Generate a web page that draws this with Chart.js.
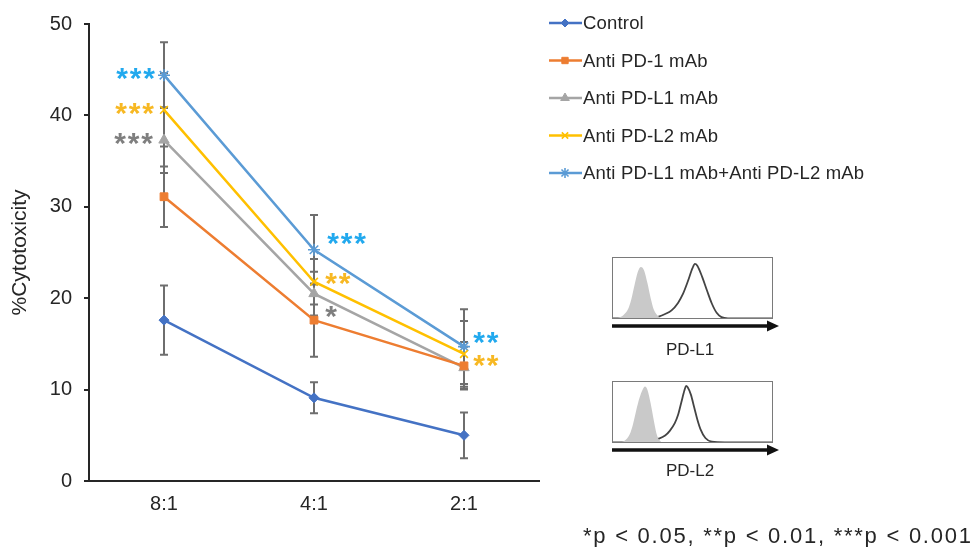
<!DOCTYPE html>
<html>
<head>
<meta charset="utf-8">
<script src="https://cdn.jsdelivr.net/npm/chart.js@4.4.1/dist/chart.umd.min.js"></script>
<style>
  html, body { margin: 0; padding: 0; background: #fff; }
  #wrap { position: relative; width: 978px; height: 547px; overflow: hidden; }
  #wrap canvas { position: absolute; }
</style>
</head>
<body>
<div id="wrap">
  <canvas id="main" width="978" height="547" style="left:0;top:0"></canvas>
  <canvas id="insetL1" width="161" height="62" style="left:612px;top:257px"></canvas>
  <canvas id="insetL2" width="161" height="62" style="left:612px;top:381px"></canvas>
</div>
<script>
/* ── data ── */
const categories = ['8:1', '4:1', '2:1'];
const yTicks = [0, 10, 20, 30, 40, 50];

const seriesNames = ['Control', 'Anti PD-1 mAb', 'Anti PD-L1 mAb', 'Anti PD-L2 mAb', 'Anti PD-L1 mAb+Anti PD-L2 mAb'];

const control  = [17.6, 9.1, 5.0];
const antiPD1  = [31.1, 17.6, 12.6];
const antiPDL1 = [37.3, 20.5, 12.4];
const antiPDL2 = [40.6, 21.8, 13.9];
const combo    = [44.4, 25.3, 14.7];

const controlErr  = [3.8, 1.7, 2.5];
const antiPD1Err  = [3.3, 4.0, 2.6];
const antiPDL1Err = [3.6, 2.4, 2.3];
const antiPDL2Err = [4.0, 2.5, 3.6];
const comboErr    = [3.6, 3.8, 4.1];

const antiPDL1Sig = ['***', '*', ''];
const antiPDL2Sig = ['***', '**', '**'];
const comboSig    = ['***', '***', '**'];

const pValueNote = '*p < 0.05, **p < 0.01, ***p < 0.001';

// flow histograms (x: fluorescence, 0-100 across box; y: count, 0-100 of box height)
const pdl1IsoX   = [1, 4, 7, 10, 12, 14, 16, 18, 20, 22, 24, 26, 29, 32];
const pdl1IsoY   = [0, 2, 6, 16, 32, 55, 76, 84, 78, 58, 34, 15, 4, 0];
const pdl1StainX = [0, 15, 24, 29, 33, 37, 41, 44, 47, 50, 51.5, 53, 56, 59, 62, 65, 68, 72, 80, 100];
const pdl1StainY = [1, 1, 2, 4, 8, 14, 26, 40, 60, 82, 89, 86, 68, 46, 25, 10, 3, 1, 1, 1];

const pdl2IsoX   = [4, 8, 11, 13, 15, 17, 19, 20.5, 22, 24, 26, 28, 31];
const pdl2IsoY   = [0, 4, 14, 30, 52, 72, 86, 91, 86, 64, 36, 12, 0];
const pdl2StainX = [0, 10, 18, 24, 29, 33, 36, 39, 41, 43, 45, 46, 47, 49, 51, 53, 55, 58, 62, 70, 100];
const pdl2StainY = [1, 1, 2, 4, 7, 12, 20, 32, 45, 65, 85, 92, 90, 78, 58, 38, 22, 8, 2, 1, 1];

/* ── styling ── */
const FONT = "Arial, 'Liberation Sans', sans-serif";
const INK = '#262626';
const COLORS = {
  control: '#4472C4',
  pd1:     '#ED7D31',
  pdl1:    '#A5A5A5',
  pdl2:    '#FFC000',
  combo:   '#5B9BD5',
};
const SIG_COLORS = { pdl1: '#7F7F7F', pdl2: '#F7B823', combo: '#22A9EE' };

// offset of the nearest asterisk from its point, and which way the run extends
const SIG_POS = {
  2: [[-17, 0, -1], [17, 19, 1], [0, 0, 1]],
  3: [[-16, 0, -1], [17, -2, 1], [15, 8, 1]],
  4: [[-15, 0, -1], [19, -10, 1], [15, -8, 1]],
};

function series(label, data, errors, color, style, radius, sig, sigColor) {
  return {
    label, data, errors, sig, sigColor,
    borderColor: color,
    backgroundColor: color,
    borderWidth: 2.5,
    pointStyle: style,
    pointRadius: radius,
    pointBackgroundColor: color,
    pointBorderColor: color,
    pointBorderWidth: (style === 'crossRot' || style === 'star') ? 1.6 : 1,
    tension: 0,
  };
}

/* ─── Error bars, drawn under the lines ─── */
const errorBars = {
  id: 'errorBars',
  beforeDatasetsDraw(chart) {
    const { ctx, scales: { y } } = chart;
    ctx.save();
    ctx.strokeStyle = '#6E6E6E';
    ctx.lineWidth = 2;
    chart.data.datasets.forEach((ds, i) => {
      chart.getDatasetMeta(i).data.forEach((pt, j) => {
        const top = y.getPixelForValue(ds.data[j] + ds.errors[j]);
        const bot = y.getPixelForValue(ds.data[j] - ds.errors[j]);
        ctx.beginPath();
        ctx.moveTo(pt.x, top); ctx.lineTo(pt.x, bot);
        ctx.moveTo(pt.x - 4, top); ctx.lineTo(pt.x + 4, top);
        ctx.moveTo(pt.x - 4, bot); ctx.lineTo(pt.x + 4, bot);
        ctx.stroke();
      });
    });
    ctx.restore();
  },
};

/* ─── Significance asterisks ─── */
const sigMarks = {
  id: 'sigMarks',
  afterDatasetsDraw(chart) {
    const { ctx } = chart;
    const size = 30;
    ctx.save();
    ctx.font = `bold ${size}px ${FONT}`;
    ctx.textAlign = 'center';
    ctx.textBaseline = 'alphabetic';
    chart.data.datasets.forEach((ds, i) => {
      if (!ds.sig) return;
      ctx.fillStyle = ds.sigColor;
      chart.getDatasetMeta(i).data.forEach((pt, j) => {
        const n = ds.sig[j].length;
        if (!n) return;
        const [dx, dy, dir] = SIG_POS[i][j];
        for (let k = 0; k < n; k++) {
          ctx.fillText('*', pt.x + dx + dir * k * 13.5, pt.y + dy + size * 0.44);
        }
      });
    });
    ctx.restore();
  },
};

/* ─── Legend, y title, flow arrows, footnote ─── */
const decorations = {
  id: 'decorations',
  afterDraw(chart) {
    const { ctx, chartArea } = chart;
    ctx.save();

    // y axis title
    ctx.fillStyle = INK;
    ctx.font = `21px ${FONT}`;
    ctx.textAlign = 'center';
    ctx.textBaseline = 'middle';
    ctx.translate(20, (chartArea.top + chartArea.bottom) / 2);
    ctx.rotate(-Math.PI / 2);
    ctx.fillText('%Cytotoxicity', 0, 0);
    ctx.setTransform(1, 0, 0, 1, 0, 0);

    // legend
    ctx.font = `18.5px ${FONT}`;
    const longest = ctx.measureText(seriesNames[4]).width;
    ctx.letterSpacing = ((281 - longest) / (seriesNames[4].length - 1)).toFixed(2) + 'px';
    ctx.textAlign = 'left';
    chart.data.datasets.forEach((ds, i) => {
      const y = 23 + i * 37.5;
      ctx.strokeStyle = ds.borderColor;
      ctx.lineWidth = 2.5;
      ctx.beginPath();
      ctx.moveTo(549, y); ctx.lineTo(582, y);
      ctx.stroke();
      ctx.fillStyle = ds.borderColor;
      ctx.lineWidth = ds.pointBorderWidth;
      Chart.helpers.drawPoint(ctx, {
        pointStyle: ds.pointStyle, radius: ds.pointRadius - 1, rotation: 0, borderWidth: ds.pointBorderWidth,
      }, 565, y);
      ctx.fillStyle = INK;
      ctx.fillText(ds.label, 583, y + 1);
    });
    ctx.letterSpacing = '0px';

    // histogram axes arrows and labels
    [[326, 'PD-L1', 350], [450, 'PD-L2', 471]].forEach(([ay, name, ly]) => {
      ctx.strokeStyle = '#111';
      ctx.fillStyle = '#111';
      ctx.lineWidth = 3.5;
      ctx.beginPath();
      ctx.moveTo(612, ay); ctx.lineTo(768, ay);
      ctx.stroke();
      ctx.beginPath();
      ctx.moveTo(779, ay); ctx.lineTo(767, ay - 5.5); ctx.lineTo(767, ay + 5.5);
      ctx.closePath();
      ctx.fill();
      ctx.fillStyle = INK;
      ctx.font = `17px ${FONT}`;
      ctx.textAlign = 'center';
      ctx.textBaseline = 'middle';
      ctx.fillText(name, 690, ly);
    });

    // footnote
    ctx.font = `22px ${FONT}`;
    ctx.textAlign = 'left';
    ctx.textBaseline = 'alphabetic';
    const w = ctx.measureText(pValueNote).width;
    ctx.letterSpacing = ((388 - w) / (pValueNote.length - 1)).toFixed(2) + 'px';
    ctx.fillText(pValueNote, 583, 543);
    ctx.restore();
  },
};

new Chart(document.getElementById('main'), {
  type: 'line',
  data: {
    labels: categories,
    datasets: [
      series(seriesNames[0], control,  controlErr,  COLORS.control, 'rectRot', 5),
      series(seriesNames[1], antiPD1,  antiPD1Err,  COLORS.pd1,     'rect', 5.5),
      series(seriesNames[2], antiPDL1, antiPDL1Err, COLORS.pdl1,    'triangle', 6, antiPDL1Sig, SIG_COLORS.pdl1),
      series(seriesNames[3], antiPDL2, antiPDL2Err, COLORS.pdl2,    'crossRot', 5.5, antiPDL2Sig, SIG_COLORS.pdl2),
      series(seriesNames[4], combo,    comboErr,    COLORS.combo,   'star', 6, comboSig, SIG_COLORS.combo),
    ],
  },
  options: {
    responsive: false,
    animation: false,
    layout: { padding: { left: 0, top: 19, right: 439, bottom: 0 } },
    plugins: { legend: { display: false }, tooltip: { enabled: false } },
    scales: {
      x: {
        type: 'category',
        offset: true,
        grid: { display: false, drawTicks: false },
        border: { color: INK, width: 2 },
        ticks: { color: INK, padding: 11, font: { size: 20, family: FONT } },
        afterFit(s) { s.height = 66; },
      },
      y: {
        min: 0,
        max: 50,
        afterBuildTicks(s) { s.ticks = yTicks.map(v => ({ value: v })); },
        grid: { drawOnChartArea: false, drawTicks: true, tickLength: 5, color: INK, lineWidth: 2 },
        border: { color: INK, width: 2 },
        ticks: { color: INK, padding: 12, font: { size: 20, family: FONT } },
        afterFit(s) { s.width = 89; },
      },
    },
  },
  plugins: [errorBars, sigMarks, decorations],
});

/* ─── Flow cytometry insets ─── */
const boxFrame = {
  id: 'boxFrame',
  afterDraw(chart) {
    const { ctx, width, height } = chart;
    ctx.save();
    ctx.strokeStyle = '#7A7A7A';
    ctx.lineWidth = 1;
    ctx.strokeRect(0.5, 0.5, width - 1, height - 1);
    ctx.restore();
  },
};

function inset(id, isoX, isoY, stainX, stainY) {
  const pts = (xs, ys) => xs.map((x, i) => ({ x, y: ys[i] }));
  new Chart(document.getElementById(id), {
    type: 'line',
    data: {
      datasets: [
        {
          data: pts(isoX, isoY),
          fill: 'origin',
          backgroundColor: '#C9C9C9',
          borderColor: '#C9C9C9',
          borderWidth: 0,
          pointRadius: 0,
          cubicInterpolationMode: 'monotone',
        },
        {
          data: pts(stainX, stainY),
          fill: false,
          borderColor: '#444',
          borderWidth: 1.8,
          pointRadius: 0,
          cubicInterpolationMode: 'monotone',
        },
      ],
    },
    options: {
      responsive: false,
      animation: false,
      layout: { padding: 0 },
      plugins: { legend: { display: false }, tooltip: { enabled: false } },
      scales: {
        x: { type: 'linear', min: 0, max: 100, display: false },
        y: { type: 'linear', min: 0, max: 100, display: false },
      },
    },
    plugins: [boxFrame],
  });
}

inset('insetL1', pdl1IsoX, pdl1IsoY, pdl1StainX, pdl1StainY);
inset('insetL2', pdl2IsoX, pdl2IsoY, pdl2StainX, pdl2StainY);
</script>
</body>
</html>
